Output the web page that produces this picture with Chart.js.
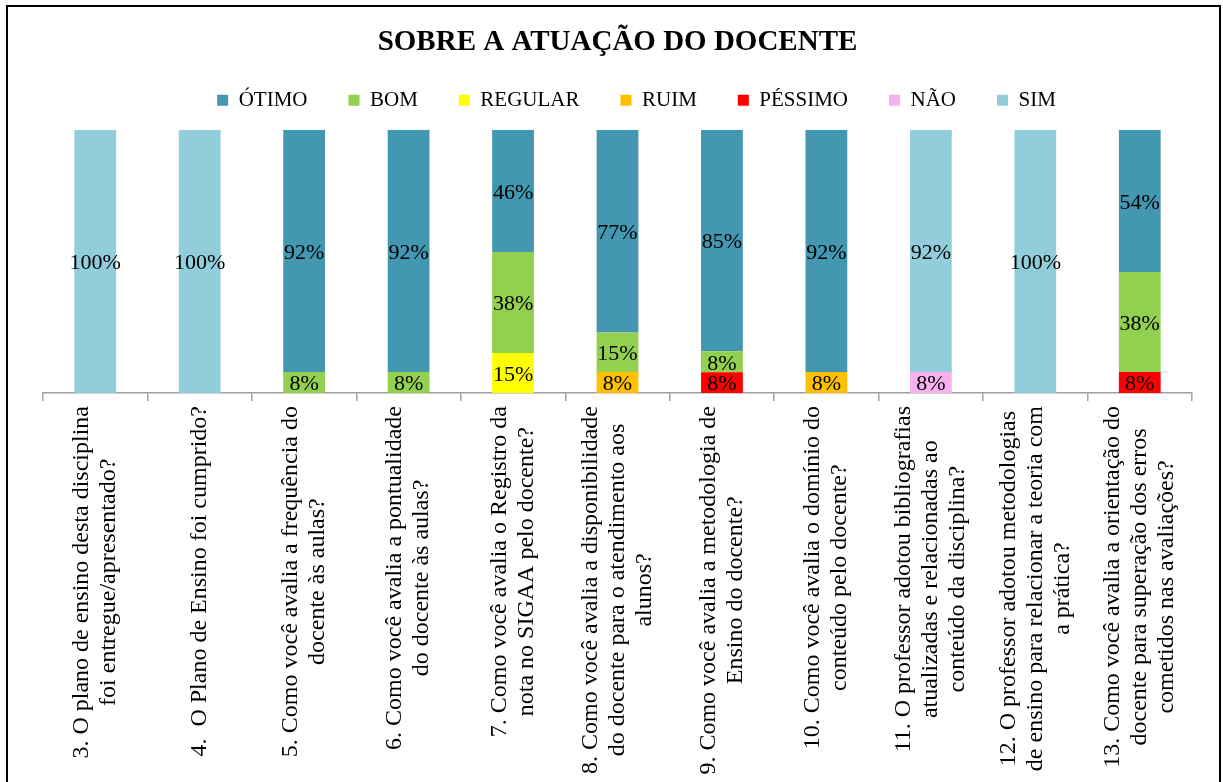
<!DOCTYPE html>
<html>
<head>
<meta charset="utf-8">
<script src="https://cdn.jsdelivr.net/npm/chart.js@4.4.1/dist/chart.umd.min.js"></script>
<style>
    html, body { margin: 0; padding: 0; background: #fff; overflow: hidden; }
    #wrap { position: relative; width: 1223px; height: 782px; }
    #frame { position: absolute; left: 6px; top: 5px; width: 1215px; height: 900px;
             border: 2px solid #000; box-sizing: border-box; pointer-events: none; }
</style>
</head>
<body>
<div id="wrap">
    <canvas id="chart" width="1223" height="782"></canvas>
    <div id="frame"></div>
</div>
<script>
// Categories (each one split in lines like the original)
const categories = [
    ['3. O plano de ensino desta disciplina', 'foi entregue/apresentado?'],
    ['4.  O Plano de Ensino foi cumprido?'],
    ['5. Como você avalia a frequência do', 'docente às aulas?'],
    ['6. Como você avalia a pontualidade', 'do docente às aulas?'],
    ['7. Como você avalia o Registro da', 'nota no SIGAA pelo docente?'],
    ['8. Como você avalia a disponibilidade', 'do docente para o atendimento aos', 'alunos?'],
    ['9. Como você avalia a metodologia de', 'Ensino do docente?'],
    ['10. Como você avalia o domínio do', 'conteúdo pelo docente?'],
    ['11. O professor adotou bibliografias', 'atualizadas e relacionadas ao', 'conteúdo da disciplina?'],
    ['12. O professor adotou metodologias', 'de ensino para relacionar a teoria com', 'a prática?'],
    ['13. Como você avalia a orientação do', 'docente para superação dos erros', 'cometidos nas avaliações?']
];

// Series values (percent, as printed on the bars)
const otimo   = [0, 0, 92, 92, 46, 77, 85, 92, 0, 0, 54];
const bom     = [0, 0, 8, 8, 38, 15, 8, 0, 0, 0, 38];
const regular = [0, 0, 0, 0, 15, 0, 0, 0, 0, 0, 0];
const ruim    = [0, 0, 0, 0, 0, 8, 0, 8, 0, 0, 0];
const pessimo = [0, 0, 0, 0, 0, 0, 8, 0, 0, 0, 8];
const nao     = [0, 0, 0, 0, 0, 0, 0, 0, 8, 0, 0];
const sim     = [100, 100, 0, 0, 0, 0, 0, 0, 92, 100, 0];

const seriesNames = ['ÓTIMO', 'BOM', 'REGULAR', 'RUIM', 'PÉSSIMO', 'NÃO', 'SIM'];
const seriesValues = [otimo, bom, regular, ruim, pessimo, nao, sim];
const seriesColors = ['#4397B0', '#92D050', '#FFFF00', '#FFC000', '#FF0000', '#F7B1EE', '#92CDDC'];
// stacking position from the bottom
const stackOrder = [5, 4, 2, 1, 0, 3, 6];

const SERIF = "'Liberation Serif', 'Times New Roman', serif";

// 100% stacked: each column is scaled to its own total
const totals = categories.map((c, i) => seriesValues.reduce((s, arr) => s + arr[i], 0));

const datasets = seriesNames.map((name, k) => ({
    label: name,
    data: seriesValues[k].map((v, i) => totals[i] ? v / totals[i] * 100 : 0),
    backgroundColor: seriesColors[k],
    borderWidth: 0,
    order: stackOrder[k],
    barPercentage: 0.4,
    categoryPercentage: 1.0
}));

// Value labels in the middle of every segment
const valueLabels = {
    id: 'valueLabels',
    afterDatasetsDraw(chart) {
        const ctx = chart.ctx;
        ctx.save();
        ctx.font = '22px ' + SERIF;
        ctx.fillStyle = '#000';
        ctx.textAlign = 'center';
        ctx.textBaseline = 'middle';
        chart.data.datasets.forEach((ds, k) => {
            const meta = chart.getDatasetMeta(k);
            meta.data.forEach((bar, i) => {
                const v = seriesValues[k][i];
                if (!v) return;
                const p = bar.getProps(['x', 'y', 'base'], true);
                ctx.fillText(v + '%', p.x, (p.y + p.base) / 2 + 2);
            });
        });
        ctx.restore();
    }
};

// Rotated, centred multi-line category labels
const categoryLabels = {
    id: 'categoryLabels',
    afterDraw(chart) {
        const ctx = chart.ctx;
        const xs = chart.scales.x;
        const top = xs.top + 13;
        const lineH = 27;
        ctx.save();
        ctx.font = '24px ' + SERIF;
        ctx.fillStyle = '#000';
        ctx.textAlign = 'center';
        ctx.textBaseline = 'middle';
        categories.forEach((lines, i) => {
            const x = xs.getPixelForValue(i);
            const maxW = Math.max(...lines.map(l => ctx.measureText(l).width));
            ctx.save();
            ctx.translate(x, top);
            ctx.rotate(-Math.PI / 2);
            lines.forEach((l, j) => {
                ctx.fillText(l, -maxW / 2, (j - (lines.length - 1) / 2) * lineH);
            });
            ctx.restore();
        });
        ctx.restore();
    }
};

// Legend: a bit more room under it, and nudged right
const legendTweak = {
    id: 'legendTweak',
    afterInit(chart) {
        const lg = chart.legend;
        const fit = lg.fit;
        lg.fit = function () {
            fit.call(this);
            this.height += 9;
        };
        const draw = lg.draw;
        lg.draw = function () {
            this.ctx.save();
            this.ctx.translate(19, 0);
            draw.call(this);
            this.ctx.restore();
        };
    }
};

new Chart(document.getElementById('chart'), {
    type: 'bar',
    data: { labels: categories, datasets: datasets },
    options: {
        responsive: false,
        animation: false,
        layout: { padding: { left: 43, right: 31, top: 0, bottom: 381 } },
        scales: {
            x: {
                stacked: true,
                grid: { drawOnChartArea: false, drawTicks: true, tickLength: 8, color: '#A0A0A0', lineWidth: 1.5, offset: true },
                border: { color: '#A0A0A0', width: 1.5 },
                ticks: { display: false }
            },
            y: {
                stacked: true,
                display: false,
                min: 0,
                max: 100
            }
        },
        plugins: {
            title: {
                display: true,
                text: 'SOBRE A ATUAÇÃO DO DOCENTE',
                color: '#000',
                font: { family: SERIF, size: 29, weight: 'bold' },
                padding: { top: 25, bottom: 10 }
            },
            legend: {
                position: 'top',
                labels: {
                    color: '#000',
                    font: { family: SERIF, size: 21 },
                    boxWidth: 11,
                    boxHeight: 11,
                    padding: 20,
                    generateLabels(chart) {
                        const items = Chart.defaults.plugins.legend.labels.generateLabels(chart);
                        items.sort((a, b) => a.datasetIndex - b.datasetIndex);
                        return items.map((it, i) => ({ ...it, text: i < items.length - 1 ? it.text + '\u2003' : it.text }));
                    }
                }
            },
            tooltip: { enabled: false }
        }
    },
    plugins: [valueLabels, categoryLabels, legendTweak]
});
</script>
</body>
</html>
